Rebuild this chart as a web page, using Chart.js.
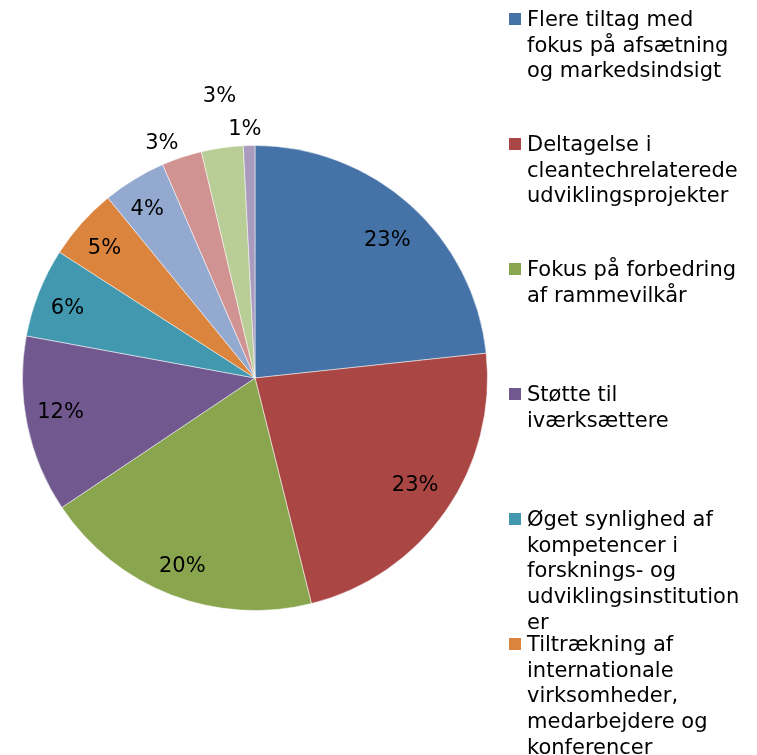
<!DOCTYPE html>
<html>
<head>
<meta charset="utf-8">
<script src="https://cdn.jsdelivr.net/npm/chart.js@4/dist/chart.umd.min.js"></script>
<style>
  html, body { margin: 0; padding: 0; background: #fff; overflow: hidden; }
  #wrap { position: relative; width: 757px; height: 755px; overflow: hidden; }
  #pie { position: absolute; left: 0; top: 0; }
  #legend { position: absolute; left: 509px; top: 0; width: 248px; font-family: "DejaVu Sans", Verdana, sans-serif; font-size: 21px; line-height: 25.7px; color: #000; }
  .item { position: absolute; left: 0; }
  .box { position: absolute; left: 0; top: 13px; width: 12px; height: 12px; }
  .txt { position: absolute; left: 18px; top: 7px; white-space: nowrap; }
</style>
</head>
<body>
<div id="wrap">
  <canvas id="pie" width="757" height="755"></canvas>
  <div id="legend"></div>
</div>
<script>
// ===== DATA =====
const categories = [
  ["Flere tiltag med", "fokus på afsætning", "og markedsindsigt"],
  ["Deltagelse i", "cleantechrelaterede", "udviklingsprojekter"],
  ["Fokus på forbedring", "af rammevilkår"],
  ["Støtte til", "iværksættere"],
  ["Øget synlighed af", "kompetencer i", "forsknings- og", "udviklingsinstitution", "er"],
  ["Tiltrækning af", "internationale", "virksomheder,", "medarbejdere og", "konferencer"],
  ["Andet (7)"],
  ["Andet (8)"],
  ["Andet (9)"],
  ["Andet (10)"]
];
const shares = [23.3, 22.8, 19.5, 12.3, 6.2, 5.0, 4.4, 2.8, 2.9, 0.8];
const colors = ["#4572A7", "#AA4643", "#89A54E", "#71588F", "#4198AF",
                "#DB843D", "#93A9CF", "#D19392", "#B9CD96", "#A99BBD"];

// ===== PCT LABELS =====
const pctLabels = {
  id: "pctLabels",
  afterDatasetsDraw(chart, args, opts) {
    const ctx = chart.ctx;
    const meta = chart.getDatasetMeta(0);
    const total = shares.reduce((a, b) => a + b, 0);
    ctx.save();
    ctx.font = "21px 'DejaVu Sans', Verdana, sans-serif";
    ctx.fillStyle = "#000";
    ctx.textAlign = "center";
    ctx.textBaseline = "middle";
    meta.data.forEach((arc, i) => {
      const p = arc.getProps(["x", "y", "startAngle", "endAngle", "outerRadius"], true);
      const mid = (p.startAngle + p.endAngle) / 2 + (opts.shift[i] || 0) * Math.PI / 180;
      const r = p.outerRadius * opts.dist[i];
      const txt = Math.round(shares[i] / total * 100) + "%";
      ctx.fillText(txt, p.x + Math.cos(mid) * r, p.y + Math.sin(mid) * r);
    });
    ctx.restore();
  }
};

new Chart(document.getElementById("pie"), {
  type: "pie",
  data: {
    labels: categories,
    datasets: [{
      data: shares,
      backgroundColor: colors,
      borderColor: "rgba(255,255,255,0.5)",
      borderWidth: 1
    }]
  },
  options: {
    responsive: false,
    animation: false,
    layout: { padding: { left: 22, right: 269, top: 145, bottom: 144 } },
    plugins: {
      legend: { display: false },
      tooltip: { enabled: false },
      pctLabels: {
        dist: [0.82, 0.83, 0.87, 0.85, 0.86, 0.855, 0.86, 1.085, 1.22, 1.07],
        shift: [2, -1, 0, 1.5, -1.3, -1, -1.3, -3.3, 0.9, -0.9]
      }
    }
  },
  plugins: [pctLabels]
});

// ===== LEGEND =====
const legend = document.getElementById("legend");
categories.forEach((lines, i) => {
  const item = document.createElement("div");
  item.className = "item";
  item.style.top = (i * 125) + "px";
  item.innerHTML = `<div class="box" style="background:${colors[i]}"></div>` +
                   `<div class="txt">${lines.join("<br>")}</div>`;
  legend.appendChild(item);
});
</script>
</body>
</html>
